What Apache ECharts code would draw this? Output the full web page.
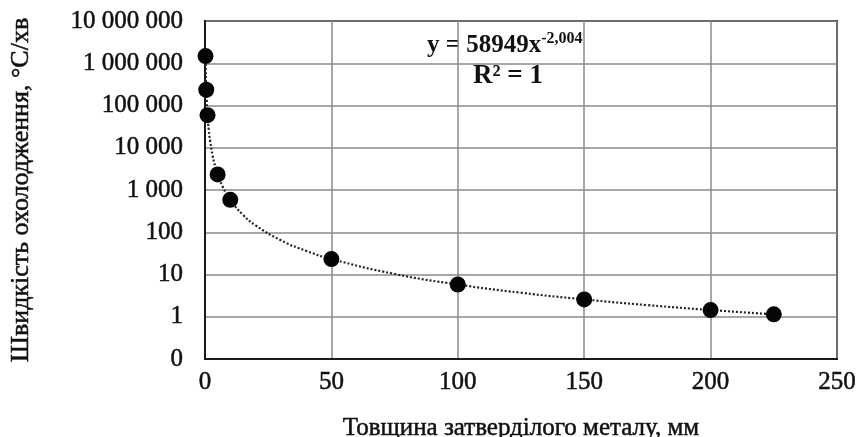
<!DOCTYPE html>
<html><head><meta charset="utf-8">
<script src="https://cdn.jsdelivr.net/npm/echarts@6/dist/echarts.min.js"></script>
<style>html,body{margin:0;padding:0;background:#fff}#c{width:862px;height:437px}</style>
</head><body><div id="c"></div>
<script>
var thickness = [0.2, 0.5, 1, 5, 10, 50, 100, 150, 200, 225];
var coolingRate = [1480000, 236000, 59000, 2340, 584, 23.2, 5.8, 2.57, 1.44, 1.14];
var trendX = [0.2, 0.3, 0.5, 0.7, 1, 1.5, 2, 3, 4, 5, 7, 10, 15, 20, 30, 40, 50, 75, 100, 125, 150, 175, 200, 225];
var trendY = [1483000, 658000, 236400, 120500, 58949, 26160, 14700, 6520, 3664, 2343, 1194, 584, 259, 145.6, 64.6, 36.3, 23.2, 10.3, 5.79, 3.70, 2.57, 1.885, 1.443, 1.139];
var xTicks = [0, 50, 100, 150, 200, 250];
var yTickLabels = ['0', '1', '10', '100', '1 000', '10 000', '100 000', '1 000 000', '10 000 000'];
var xTitle = 'Товщина затверділого металу, мм';
var yTitle = 'Швидкість охолодження, °С/хв';

var font = 'Liberation Serif';
var txt = '#111';
var chart = echarts.init(document.getElementById('c'), null, {renderer: 'canvas'});
function fmtY(v) {
  var e = Math.round(Math.log10(v));
  return yTickLabels[e + 1];
}
var heavy = {textBorderColor: txt, textBorderWidth: 0.5};
chart.setOption({
  animation: false,
  backgroundColor: '#fff',
  grid: {left: 205, right: 25, top: 21, bottom: 78, outerBoundsMode: 'none', containLabel: false,
    show: true, borderColor: '#1a1a1a', borderWidth: 2, backgroundColor: 'transparent'},
  xAxis: {
    type: 'value', min: xTicks[0], max: xTicks[xTicks.length - 1], interval: 50,
    name: xTitle, nameLocation: 'middle', nameGap: 57,
    nameTextStyle: Object.assign({fontFamily: font, fontSize: 25, color: txt}, heavy),
    axisLine: {show: true, lineStyle: {color: '#1a1a1a', width: 2}},
    axisTick: {show: false},
    axisLabel: Object.assign({fontFamily: font, fontSize: 25, color: txt, margin: 11}, heavy),
    splitLine: {show: true, lineStyle: {color: '#8a8a8a', width: 1.5}}
  },
  yAxis: {
    type: 'log', logBase: 10, min: 0.1, max: 10000000,
    name: yTitle, nameLocation: 'middle', nameGap: 171,
    nameTextStyle: Object.assign({fontFamily: font, fontSize: 26, color: txt}, heavy),
    axisLine: {show: true, lineStyle: {color: '#1a1a1a', width: 2}},
    axisTick: {show: false},
    axisLabel: Object.assign({fontFamily: font, fontSize: 25, color: txt, margin: 22, formatter: fmtY}, heavy),
    splitLine: {show: true, lineStyle: {color: '#8a8a8a', width: 1.5}}
  },
  series: [
    {
      type: 'line', data: trendX.map(function (x, i) { return [x, trendY[i]]; }),
      showSymbol: false, smooth: true, z: 2,
      lineStyle: {color: '#222', width: 2.2, type: [2, 2]}
    },
    {
      type: 'scatter', data: thickness.map(function (x, i) { return [x, coolingRate[i]]; }),
      symbolSize: 16, z: 3,
      itemStyle: {color: '#050505', opacity: 1}
    }
  ],
  graphic: [
    {type: 'text', left: 427, top: 31, style: {
      text: '{a|y = 58949x}{s|-2,004}',
      rich: {
        a: {fontFamily: font, fontSize: 25, fontWeight: 'bold', fill: txt, lineHeight: 30},
        s: {fontFamily: font, fontSize: 16, fontWeight: 'bold', fill: txt, verticalAlign: 'top', lineHeight: 30, padding: [0, 0, 14, 0]}
      }
    }},
    {type: 'text', left: 473, top: 63, style: {
      text: 'R² = 1', fontFamily: font, fontSize: 27, fontWeight: 'bold', fill: txt
    }}
  ]
});
</script></body></html>
